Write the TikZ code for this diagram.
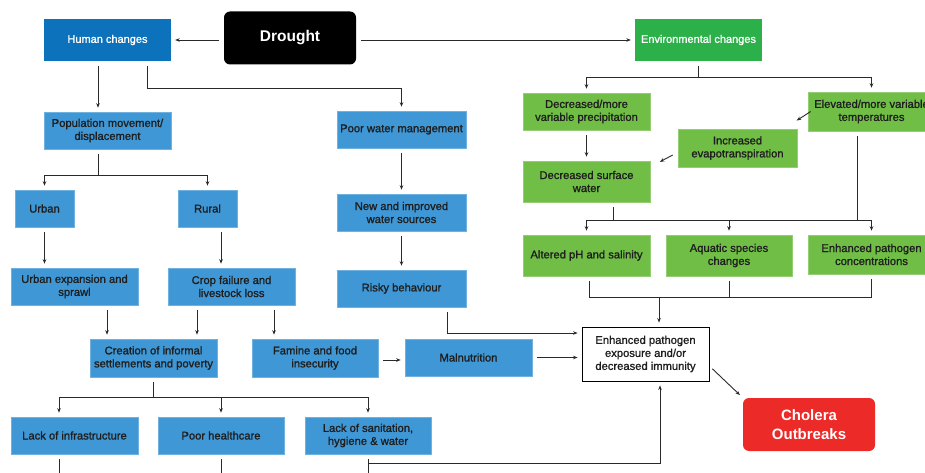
\documentclass[tikz,border=0pt]{standalone}
\usepackage{fontspec}
\setmainfont{Liberation Sans}
\newfontfamily\medfont{Liberation Sans}[FakeBold=1.2]
\usetikzlibrary{arrows.meta,calc}
\definecolor{dblue}{HTML}{0B72BB}
\definecolor{lblue}{HTML}{3F97D5}
\definecolor{dgreen}{HTML}{2BB04A}
\definecolor{lgreen}{HTML}{70BE45}
\definecolor{cred}{HTML}{EC2A27}
\definecolor{ink}{HTML}{1E1E1E}
\definecolor{lin}{HTML}{2A2A2A}
\begin{document}
\begin{tikzpicture}[x=1pt,y=-1pt,
  box/.style={rectangle, inner sep=2pt, align=center, font=\medfont\fontsize{11.2}{13}\selectfont, text=ink},
  bbox/.style={box, fill=lblue, draw=lblue!75!white, line width=0.6pt},
  gbox/.style={box, fill=lgreen, draw=lgreen!75!white, line width=0.6pt},
  hbox/.style={box, text=white, font=\medfont\fontsize{11}{13}\selectfont},
  arr/.style={draw=lin, line width=0.9pt, -{Stealth[length=4.5pt,width=3.6pt]}, shorten >=4pt},
  ln/.style={draw=lin, line width=0.9pt},
  gap/.style={shorten <=5pt}]
\useasboundingbox (0,0) rectangle (925,473);
\clip (0,0) rectangle (925,473);
% nodes
\node[hbox, fill=dblue, minimum width=127pt, minimum height=42pt] (hc) at (107.5,40) {Human changes};
\node[rectangle, rounded corners=6pt, fill=black, text=white, minimum width=132pt, minimum height=53pt, font=\fontsize{15.5}{18}\selectfont\bfseries] (dr) at (290,38) {Drought};
\node[hbox, fill=dgreen, minimum width=127pt, minimum height=42pt] (env) at (698.5,40) {Environmental changes};
\node[bbox, minimum width=127pt, minimum height=37pt] (pop) at (107.5,130.5) {Population movement/\\displacement};
\node[bbox, minimum width=129pt, minimum height=37pt] (pwm) at (401.5,129.5) {Poor water management};
\node[bbox, minimum width=59pt, minimum height=37pt] (urb) at (44.5,208.5) {Urban};
\node[bbox, minimum width=59pt, minimum height=37pt] (rur) at (207.5,208.5) {Rural};
\node[bbox, minimum width=129pt, minimum height=37pt] (nws) at (401.5,212.5) {New and improved\\water sources};
\node[bbox, minimum width=127pt, minimum height=37pt] (uex) at (74.5,286.5) {Urban expansion and\\sprawl};
\node[bbox, minimum width=127pt, minimum height=37pt] (crop) at (231.5,286.5) {Crop failure and\\livestock loss};
\node[bbox, minimum width=129pt, minimum height=37pt] (risk) at (401.5,288.5) {Risky behaviour};
\node[bbox, minimum width=127pt, minimum height=38pt] (cre) at (153.5,358) {Creation of informal\\settlements and poverty};
\node[bbox, minimum width=126pt, minimum height=38pt] (fam) at (315,358) {Famine and food\\insecurity};
\node[bbox, minimum width=127pt, minimum height=37pt] (mal) at (468.5,357.5) {Malnutrition};
\node[box, draw=black, line width=0.9pt, fill=white, minimum width=127pt, minimum height=54pt] (enh) at (645.5,354) {Enhanced pathogen\\exposure and/or\\decreased immunity};
\node[rectangle, rounded corners=6pt, fill=cred, text=white, minimum width=132pt, minimum height=53pt, align=center, font=\fontsize{15}{19.5}\selectfont\bfseries] (chol) at (809,424.5) {Cholera\\Outbreaks};
\node[bbox, minimum width=127pt, minimum height=37pt] (inf) at (74.5,435.5) {Lack of infrastructure};
\node[bbox, minimum width=126pt, minimum height=37pt] (ph) at (221,435.5) {Poor healthcare};
\node[bbox, minimum width=126pt, minimum height=37pt] (san) at (368,435.5) {Lack of sanitation,\\hygiene \& water};
\node[gbox, minimum width=127pt, minimum height=37pt] (dp) at (586.5,111.5) {Decreased/more\\variable precipitation};
\node[gbox, minimum width=127pt, minimum height=39pt] (et) at (871.5,111.5) {Elevated/more variable\\temperatures};
\node[gbox, minimum width=119pt, minimum height=38pt] (ev) at (737.5,148) {Increased\\evapotranspiration};
\node[gbox, minimum width=127pt, minimum height=41pt] (dsw) at (586.5,181.5) {Decreased surface\\water};
\node[gbox, minimum width=127pt, minimum height=41pt] (aph) at (586.5,255.5) {Altered pH and salinity};
\node[gbox, minimum width=126pt, minimum height=41pt] (aq) at (729,255.5) {Aquatic species\\changes};
\node[gbox, minimum width=127pt, minimum height=39pt] (epc) at (871.5,254.5) {Enhanced pathogen\\concentrations};
% junction coordinates
\coordinate (hcj) at (147,88);
\coordinate (popj) at (98,175);
\coordinate (crej) at (153.5,397);
\coordinate (envj) at (698.5,77);
\coordinate (dswj) at (613,220);
\coordinate (etj) at (857,220);
\coordinate (gj) at (659,297);
\coordinate (rj) at (447,333);
\coordinate (sanj) at (368,463);
\coordinate (infb) at (59,480);
\coordinate (phb) at (221,480);
\coordinate (sanb) at (368,480);
% connectors
\draw[arr,gap] (hc.east -| dr.west) -- (hc.east);
\draw[arr,gap] (env.west -| dr.east) -- (env.west);
\draw[arr,gap] ([xshift=-9.5pt]hc.south) -- ([xshift=-9.5pt]pop.north);
\draw[arr,gap] (hc.south -| hcj) -- (hcj) -| (pwm.north);
\draw[ln,gap] (pop.south -| popj) -- (popj);
\draw[arr] (popj) -| (urb.north);
\draw[arr] (popj) -| (rur.north);
\draw[arr,gap] (pwm.south) -- (nws.north);
\draw[arr,gap] (nws.south) -- (risk.north);
\draw[arr,gap] (urb.south) -- (urb.south |- uex.north);
\draw[arr,gap] ([xshift=13.5pt]rur.south) -- ([xshift=13.5pt]rur.south |- crop.north);
\draw[arr,gap] ([xshift=32.5pt]uex.south) -- ([xshift=32.5pt]uex.south |- cre.north);
\draw[arr,gap] ([xshift=-34.5pt]crop.south) -- ([xshift=-34.5pt]crop.south |- cre.north);
\draw[arr,gap] ([xshift=42.5pt]crop.south) -- ([xshift=42.5pt]crop.south |- fam.north);
\draw[arr,gap] ([yshift=-2pt]fam.east) -- ([yshift=-2pt]fam.east -| mal.west);
\draw[arr,gap] (mal.east) -- (mal.east -| enh.west);
\draw[arr,gap] (risk.south -| rj) -- (rj) -- (rj -| enh.west);
\draw[ln,gap] (cre.south) -- (crej);
\draw[arr] (crej) -| ([xshift=-15.5pt]inf.north);
\draw[arr] (crej) -| (ph.north);
\draw[arr] (crej) -| (san.north);
\draw[ln,gap] (inf.south -| infb) -- (infb);
\draw[ln,gap] (ph.south) -- (phb);
\draw[ln,gap] (san.south) -- (sanb);
\draw[arr] (sanj) -| ([xshift=14.5pt]enh.south);
\draw[arr,shorten <=4pt] ([yshift=-12pt]enh.east) -- (chol.north west);
% environmental side
\draw[ln,gap] (env.south) -- (envj);
\draw[arr] (envj) -| (dp.north);
\draw[arr] (envj) -| (et.north);
\draw[arr] ([xshift=3pt]et.west) -- ([xshift=-4pt,yshift=6pt]ev.north east);
\draw[arr] ([xshift=-5pt,yshift=-7pt]ev.west) -- ([xshift=6pt,yshift=-3pt]dsw.north east);
\draw[arr,gap] (dp.south) -- (dsw.north);
\draw[ln,gap] (dsw.south -| dswj) -- (dswj);
\draw[arr] (dswj) -| (aph.north);
\draw[arr] (dswj) -| (aq.north);
\draw[arr] (dswj) -| (epc.north);
\draw[ln,gap] (et.south -| etj) -- (etj);
\draw[ln,gap,shorten >=5pt] ([xshift=2.5pt]aph.south) -- ([xshift=2.5pt]aph.south |- gj) -- (epc.south |- gj) -- (epc.south);
\draw[ln,gap] (aq.south) -- (aq.south |- gj);
\draw[arr] (gj) -- (gj |- enh.north);
\end{tikzpicture}
\end{document}
